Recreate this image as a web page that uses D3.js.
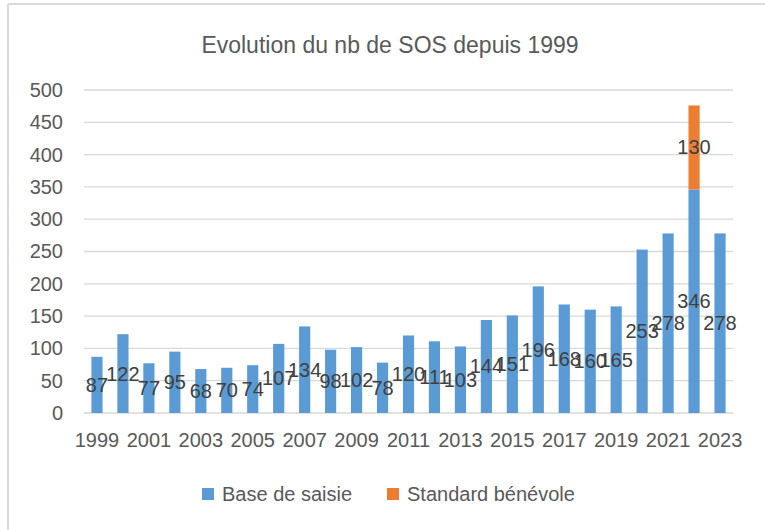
<!DOCTYPE html>
<html>
<head>
<meta charset="utf-8">
<script src="https://cdn.jsdelivr.net/npm/d3@7"></script>
<style>
  body { margin: 0; background: #fff; }
  text { font-family: "Liberation Sans", Arial, sans-serif; fill: #595959; }
</style>
</head>
<body>
<div id="chart"></div>
<script>
var years = [1999,2000,2001,2002,2003,2004,2005,2006,2007,2008,2009,2010,2011,2012,2013,2014,2015,2016,2017,2018,2019,2020,2021,2022,2023];
var baseSaisie = [87,122,77,95,68,70,74,107,134,98,102,78,120,111,103,144,151,196,168,160,165,253,278,346,278];
var standardBenevole = [0,0,0,0,0,0,0,0,0,0,0,0,0,0,0,0,0,0,0,0,0,0,0,130,0];
var yTicks = [0,50,100,150,200,250,300,350,400,450,500];
var seriesNames = ["Base de saisie", "Standard bénévole"];
var colors = ["#5b9bd5", "#ed7d31"];

var width = 765, height = 530;

var svg = d3.select("#chart")
    .append("svg")
    .attr("width", width)
    .attr("height", height);

// chart frame (only top and left edges visible)
svg.append("line").attr("x1", 8).attr("y1", 4).attr("x2", width).attr("y2", 4)
    .attr("stroke", "#d9d9d9").attr("stroke-width", 2);
svg.append("line").attr("x1", 8).attr("y1", 4).attr("x2", 8).attr("y2", height)
    .attr("stroke", "#d9d9d9").attr("stroke-width", 2);

var x = d3.scaleBand()
    .domain(years)
    .range([84, 733])
    .paddingInner(0.57)
    .paddingOuter(0.285);

var y = d3.scaleLinear()
    .domain([0, 500])
    .range([413, 90]);

// title
svg.append("text")
    .attr("x", 390)
    .attr("y", 53)
    .attr("text-anchor", "middle")
    .style("font-size", "23px")
    .text("Evolution du nb de SOS depuis 1999");

// gridlines
svg.selectAll(".grid")
    .data(yTicks)
    .enter()
    .append("line")
    .attr("x1", 84)
    .attr("x2", 733)
    .attr("y1", function(d){ return y(d); })
    .attr("y2", function(d){ return y(d); })
    .attr("stroke", "#d9d9d9")
    .attr("stroke-width", 1.3);

// y axis labels
var yAxis = d3.axisLeft(y).tickValues(yTicks).tickSize(0).tickPadding(0);
var yg = svg.append("g").attr("transform", "translate(63,0)").call(yAxis);
yg.select(".domain").remove();
yg.selectAll("text")
    .style("font-size", "20px")
    .attr("fill", "#595959");

// x axis labels (every other year)
var xAxis = d3.axisBottom(x)
    .tickValues(years.filter(function(d, i){ return i % 2 === 0; }))
    .tickSize(0)
    .tickPadding(0);
var xg = svg.append("g").attr("transform", "translate(0,429)").call(xAxis);
xg.select(".domain").remove();
xg.selectAll("text")
    .style("font-size", "20px")
    .attr("dy", "0.9em")
    .attr("fill", "#595959");

// stacked bars
var rows = years.map(function(yr, i){
    return { year: yr, base: baseSaisie[i], standard: standardBenevole[i] };
});
var stack = d3.stack().keys(["base", "standard"]);
var layers = stack(rows);

var layerG = svg.selectAll(".layer")
    .data(layers)
    .enter()
    .append("g")
    .attr("fill", function(d, i){ return colors[i]; });

layerG.selectAll("rect")
    .data(function(d){ return d; })
    .enter()
    .append("rect")
    .attr("x", function(d){ return x(d.data.year); })
    .attr("y", function(d){ return y(d[1]); })
    .attr("width", x.bandwidth())
    .attr("height", function(d){ return y(d[0]) - y(d[1]); });

// data labels, centred in each segment (they overlap, as in Excel)
layerG.selectAll("text")
    .data(function(d){ return d.filter(function(p){ return p[1] - p[0] > 0; }); })
    .enter()
    .append("text")
    .attr("x", function(d){ return x(d.data.year) + x.bandwidth() / 2; })
    .attr("y", function(d){ return y((d[0] + d[1]) / 2); })
    .attr("dy", "0.35em")
    .attr("text-anchor", "middle")
    .style("font-size", "20px")
    .style("fill", "#404040")
    .text(function(d){ return d[1] - d[0]; });

// legend
var legend = svg.selectAll(".legend")
    .data(seriesNames)
    .enter()
    .append("g")
    .attr("transform", function(d, i){ return "translate(" + (i === 0 ? 202 : 387) + ",488)"; });
legend.append("rect")
    .attr("width", 12)
    .attr("height", 12)
    .attr("fill", function(d, i){ return colors[i]; });
legend.append("text")
    .attr("x", 20)
    .attr("y", 6)
    .attr("dy", "0.35em")
    .style("font-size", "20px")
    .text(function(d){ return d; });
</script>
</body>
</html>
